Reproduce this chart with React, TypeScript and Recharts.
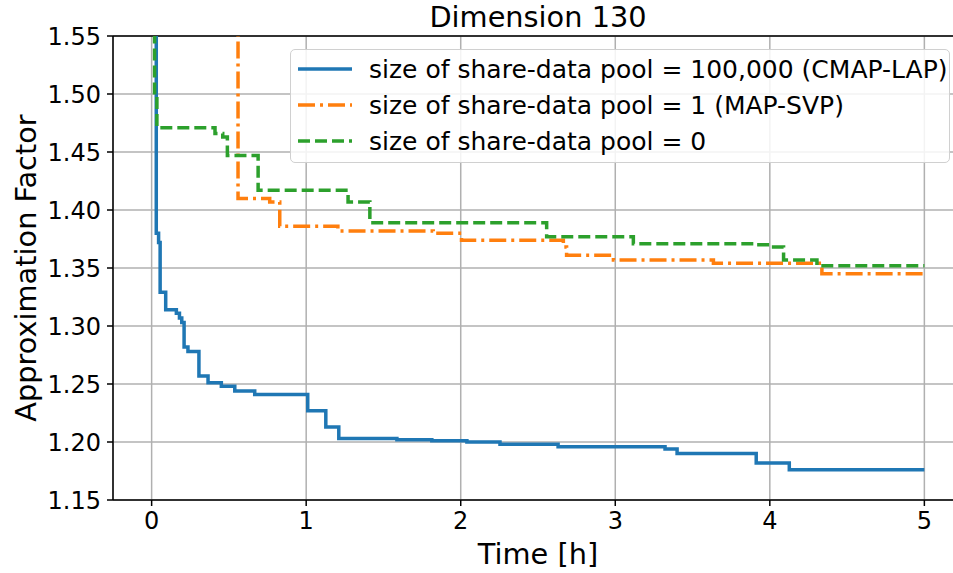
import React from "react";
import {
  LineChart,
  Line,
  XAxis,
  YAxis,
  CartesianGrid,
  Legend,
  ReferenceLine,
  Label,
} from "recharts";

// size of share-data pool = 100,000 (CMAP-LAP)
const cmapLapTime = [0.025, 0.03, 0.045, 0.055, 0.091, 0.16, 0.18, 0.195, 0.21, 0.235, 0.306, 0.365, 0.451, 0.538, 0.667, 1.01, 1.127, 1.211, 1.587, 1.813, 2.04, 2.254, 2.63, 3.322, 3.4, 3.912, 4.126, 5.0];
const cmapLapFactor = [1.7, 1.38, 1.372, 1.329, 1.314, 1.311, 1.307, 1.303, 1.282, 1.278, 1.257, 1.251, 1.248, 1.244, 1.241, 1.227, 1.213, 1.203, 1.202, 1.201, 1.2, 1.198, 1.196, 1.194, 1.19, 1.182, 1.176, 1.176];

// size of share-data pool = 1 (MAP-SVP)
const mapSvpTime = [0.555, 0.559, 0.764, 0.829, 1.205, 1.822, 2.005, 2.664, 2.685, 2.988, 3.635, 4.337, 5.0];
const mapSvpFactor = [1.7, 1.41, 1.407, 1.386, 1.382, 1.38, 1.374, 1.368, 1.361, 1.357, 1.354, 1.345, 1.345];

// size of share-data pool = 0
const noShareTime = [0.015, 0.019, 0.034, 0.41, 0.46, 0.49, 0.689, 1.271, 1.412, 2.556, 3.117, 3.916, 4.003, 4.089, 4.305, 5.0];
const noShareFactor = [1.7, 1.498, 1.471, 1.466, 1.463, 1.447, 1.417, 1.407, 1.389, 1.377, 1.371, 1.37, 1.368, 1.357, 1.352, 1.352];

const xTicks = [0, 1, 2, 3, 4, 5];
const yTicks = [1.15, 1.2, 1.25, 1.3, 1.35, 1.4, 1.45, 1.5, 1.55];

const zip = (xs: number[], ys: number[]) => xs.map((x, i) => ({ x, y: ys[i] }));

const SERIES = [
  { name: "size of share-data pool = 100,000 (CMAP-LAP)", color: "#1f77b4", dash: undefined, data: zip(cmapLapTime, cmapLapFactor) },
  { name: "size of share-data pool = 1 (MAP-SVP)", color: "#ff7f0e", dash: "17 5 3 5", data: zip(mapSvpTime, mapSvpFactor) },
  { name: "size of share-data pool = 0", color: "#2ca02c", dash: "12 5", data: zip(noShareTime, noShareFactor) },
];

const FONT = "'DejaVu Sans', sans-serif";
const TICK_SIZE = 24;
const LEGEND_SIZE = 25;
const LABEL_SIZE = 28.8;

const LegendBox = () => (
  <div
    style={{
      width: 660,
      height: 114,
      boxSizing: "border-box",
      border: "1.5px solid #d0d0d0",
      borderRadius: 5,
      background: "rgba(255,255,255,0.85)",
      padding: "1px 0 0 7px",
      fontFamily: FONT,
      fontSize: LEGEND_SIZE,
      color: "#000",
    }}
  >
    {SERIES.map((s, i) => (
      <div key={`legend-item-${i}`} style={{ display: "flex", alignItems: "center", height: 36 }}>
        <svg width={54} height={10} style={{ marginRight: 17 }}>
          <line x1={0} y1={5} x2={54} y2={5} stroke={s.color} strokeWidth={3.5} strokeDasharray={s.dash} />
        </svg>
        <span style={{ whiteSpace: "nowrap" }}>{s.name}</span>
      </div>
    ))}
  </div>
);

export default function App() {
  return (
    <div
      style={{
        position: "absolute",
        left: 0,
        top: 0,
        width: 953,
        height: 573,
        overflow: "hidden",
        background: "#fff",
        fontFamily: FONT,
      }}
    >
      <div
        style={{
          position: "absolute",
          left: 113,
          width: 850,
          top: 3,
          textAlign: "center",
          fontSize: LABEL_SIZE,
          lineHeight: "29px",
          color: "#000",
          zIndex: 2,
        }}
      >
        Dimension 130
      </div>
      <LineChart width={980} height={573} margin={{ top: 36, right: 17, bottom: 0, left: 0 }}>
        <CartesianGrid stroke="#b0b0b0" strokeWidth={1.5} />
        <XAxis
          type="number"
          dataKey="x"
          domain={[-0.25, 5.25]}
          ticks={xTicks}
          allowDataOverflow
          height={73}
          tickSize={6}
          tickMargin={6}
          stroke="#000"
          strokeWidth={1.5}
          tick={{ fill: "#000", fontSize: TICK_SIZE }}
        >
          <Label value="Time [h]" position="insideBottom" offset={9} style={{ fontSize: LABEL_SIZE, fill: "#000" }} />
        </XAxis>
        <YAxis
          type="number"
          dataKey="y"
          domain={[1.15, 1.55]}
          ticks={yTicks}
          allowDataOverflow
          width={113}
          tickSize={6}
          tickMargin={6}
          stroke="#000"
          strokeWidth={1.5}
          tickFormatter={(v: number) => v.toFixed(2)}
          tick={{ fill: "#000", fontSize: TICK_SIZE }}
        >
          <Label
            value="Approximation Factor"
            angle={-90}
            position="insideLeft"
            offset={26}
            style={{ fontSize: LABEL_SIZE, fill: "#000", textAnchor: "middle" }}
          />
        </YAxis>
        <ReferenceLine y={1.55} stroke="#000" strokeWidth={1.5} />
        {SERIES.map((s, i) => (
          <Line
            key={`line-${i}`}
            data={s.data}
            dataKey="y"
            name={s.name}
            type="stepAfter"
            stroke={s.color}
            strokeWidth={3.5}
            strokeDasharray={s.dash}
            dot={false}
            activeDot={false}
            isAnimationActive={false}
          />
        ))}
        <Legend
          layout="horizontal"
          verticalAlign="middle"
          align="center"
          content={<LegendBox />}
          wrapperStyle={{ left: 290, top: 49, width: 660, height: 114 }}
        />
      </LineChart>
    </div>
  );
}
